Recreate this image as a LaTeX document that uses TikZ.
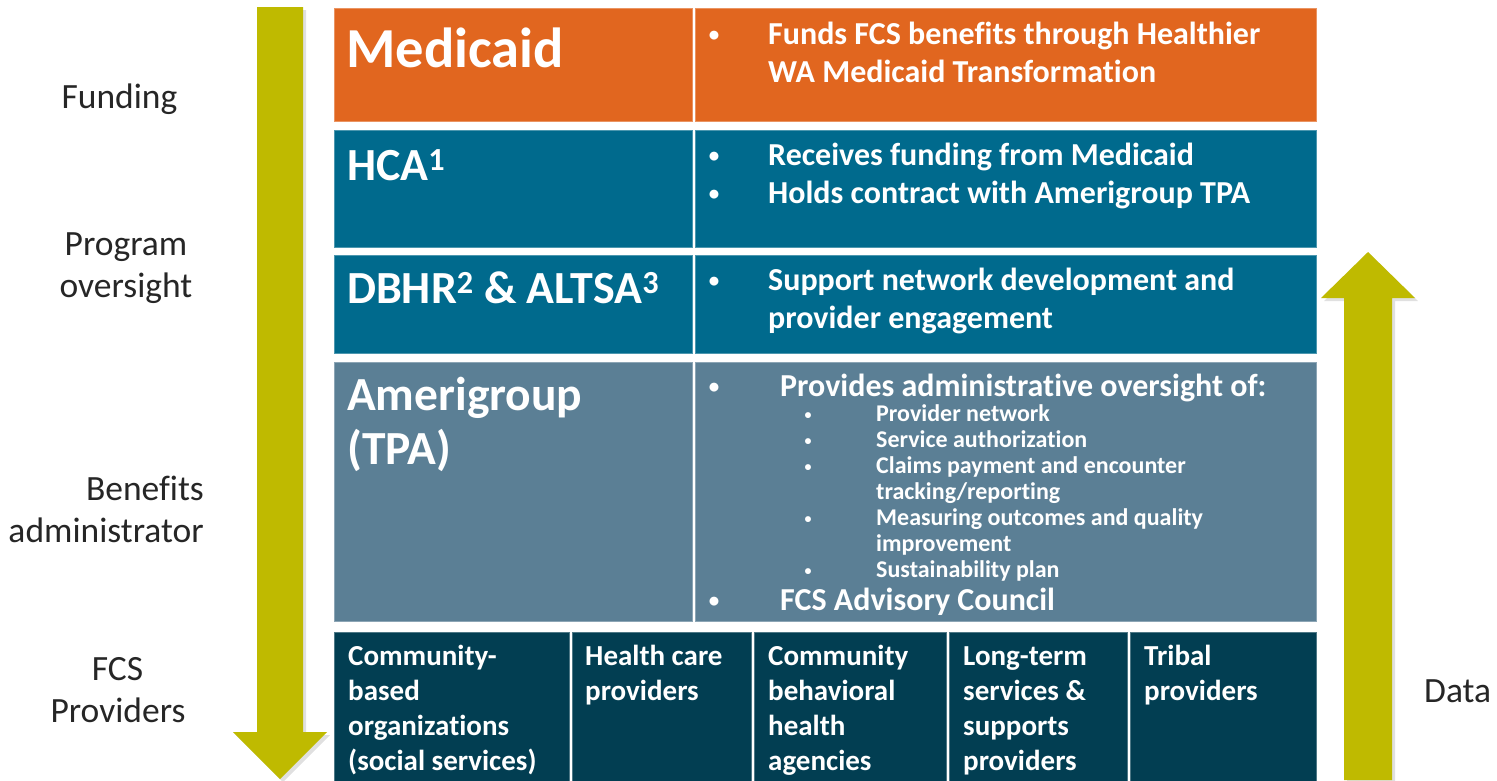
\documentclass[tikz,border=0pt]{standalone}
\usepackage{fontspec}
\setmainfont{Carlito}[Ligatures=NoCommon, RawFeature=-liga, RawFeature=-calt, RawFeature=-dlig]
\definecolor{cMed}{HTML}{E1661F}
\definecolor{cHca}{HTML}{006A8D}
\definecolor{cAmg}{HTML}{5B7F95}
\definecolor{cPrv}{HTML}{023E52}
\definecolor{cArr}{HTML}{BFBA00}
\tikzset{
  cell/.style={anchor=north west, inner sep=0pt, outer sep=0pt, fill=#1, draw=#1!70!white, line width=0.6pt},
  hd/.style={anchor=base west, inner sep=0pt, text=white, font=\fontsize{46}{54}\selectfont\bfseries},
  bt/.style={anchor=base west, inner sep=0pt, text=white, font=\fontsize{32}{38}\selectfont\bfseries},
  bl/.style={anchor=base, inner sep=0pt, text=white, font=\fontsize{21}{38}\selectfont\bfseries},
  st/.style={anchor=base west, inner sep=0pt, text=white, font=\fontsize{24}{26}\selectfont\bfseries},
  sb/.style={anchor=base, inner sep=0pt, text=white, font=\fontsize{14}{26}\selectfont\bfseries},
  pt/.style={anchor=base west, inner sep=0pt, text=white, font=\fontsize{29}{35}\selectfont\bfseries},
  lab/.style={anchor=base, inner sep=0pt, text=black!85, font=\fontsize{35.5}{42}\selectfont},
  arrowshape/.style={fill=cArr},
  arrowshadow/.style={fill=black, opacity=0.12}
}
\begin{document}
\begin{tikzpicture}[x=1pt, y=-1pt]
\useasboundingbox (0,0) rectangle (1497,780);
\fill[white] (0,0) rectangle (1497,780);

% arrows
\fill[arrowshadow] (260,10) -- (306,10) -- (306,735) -- (330,735) -- (283,782) -- (236,735) -- (260,735) -- cycle;
\fill[arrowshape] (257,7) -- (303,7) -- (303,732) -- (327,732) -- (280,779) -- (233,732) -- (257,732) -- cycle;
\fill[arrowshadow] (1371,255) -- (1418,301) -- (1395,301) -- (1395,783) -- (1347,783) -- (1347,301) -- (1324,301) -- cycle;
\fill[arrowshape] (1368,252) -- (1415,298) -- (1392,298) -- (1392,780) -- (1344,780) -- (1344,298) -- (1321,298) -- cycle;

% cells
\node[cell=cMed, minimum width=358pt, minimum height=113pt] (medL) at (334,8) {};
\node[cell=cMed, minimum width=621pt, minimum height=113pt] (medR) at (695,8) {};
\node[cell=cHca, minimum width=358pt, minimum height=117pt] (hcaL) at (334,130) {};
\node[cell=cHca, minimum width=621pt, minimum height=117pt] (hcaR) at (695,130) {};
\node[cell=cHca, minimum width=358pt, minimum height=98pt] (dbhL) at (334,255) {};
\node[cell=cHca, minimum width=621pt, minimum height=98pt] (dbhR) at (695,255) {};
\node[cell=cAmg, minimum width=358pt, minimum height=259pt] (amgL) at (334,362) {};
\node[cell=cAmg, minimum width=621pt, minimum height=259pt] (amgR) at (695,362) {};
\node[cell=cPrv, minimum width=235pt, minimum height=150pt] (p1) at (334,632) {};
\node[cell=cPrv, minimum width=179pt, minimum height=150pt] (p2) at (572,632) {};
\node[cell=cPrv, minimum width=192pt, minimum height=150pt] (p3) at (754,632) {};
\node[cell=cPrv, minimum width=178pt, minimum height=150pt] (p4) at (949,632) {};
\node[cell=cPrv, minimum width=186pt, minimum height=150pt] (p5) at (1130,632) {};

% headings
\node[hd, font=\fontsize{56.5}{60}\selectfont\bfseries] (tMed) at (346,67) {Medicaid};
\node[hd] (tHca) at (347,180) {HCA\textsuperscript{1}};
\node[hd] (tDbh) at (347,303) {DBHR\textsuperscript{2} \& ALTSA\textsuperscript{3}};
\node[hd, font=\fontsize{47.5}{54}\selectfont\bfseries] (tAmg1) at (347,410) {Amerigroup};
\node[hd, font=\fontsize{47.5}{54}\selectfont\bfseries] (tAmg2) at (347,464) {(TPA)};

% Medicaid text
\node[bl] (b1) at (714,41) {•};
\node[bt] (m1) at (768,44) {Funds FCS benefits through Healthier};
\node[bt] (m2) at (768,82) {WA Medicaid Transformation};
% HCA text
\node[bl] (b2) at (714,162) {•};
\node[bt] (h1) at (768,165) {Receives funding from Medicaid};
\node[bl] (b3) at (714,200) {•};
\node[bt] (h2) at (768,203) {Holds contract with Amerigroup TPA};
% DBHR text
\node[bl] (b4) at (714,287) {•};
\node[bt] (d1) at (768,290) {Support network development and};
\node[bt] (d2) at (768,328) {provider engagement};
% Amerigroup text
\node[bl] (b5) at (714,393) {•};
\node[bt] (a0) at (780,396) {Provides administrative oversight of:};
\node[sb] (s1) at (808,419) {•};
\node[st] (a1) at (876,421) {Provider network};
\node[sb] (s2) at (808,445) {•};
\node[st] (a2) at (876,447) {Service authorization};
\node[sb] (s3) at (808,471) {•};
\node[st] (a3) at (876,473) {Claims payment and encounter};
\node[st] (a4) at (876,499) {tracking/reporting};
\node[sb] (s4) at (808,523) {•};
\node[st] (a5) at (876,525) {Measuring outcomes and quality};
\node[st] (a6) at (876,551) {improvement};
\node[sb] (s5) at (808,575) {•};
\node[st] (a7) at (876,577) {Sustainability plan};
\node[bl] (b6) at (714,607) {•};
\node[bt] (a8) at (780,610) {FCS Advisory Council};

% providers
\node[pt] (p1a) at (348,665) {Community-};
\node[pt] (p1b) at (348,700) {based};
\node[pt] (p1c) at (348,735) {organizations};
\node[pt] (p1d) at (348,770) {(social services)};
\node[pt] (p2a) at (585,665) {Health care};
\node[pt] (p2b) at (585,700) {providers};
\node[pt] (p3a) at (768,665) {Community};
\node[pt] (p3b) at (768,700) {behavioral};
\node[pt] (p3c) at (768,735) {health};
\node[pt] (p3d) at (768,770) {agencies};
\node[pt] (p4a) at (963,665) {Long-term};
\node[pt] (p4b) at (963,700) {services \&};
\node[pt] (p4c) at (963,735) {supports};
\node[pt] (p4d) at (963,770) {providers};
\node[pt] (p5a) at (1144,665) {Tribal};
\node[pt] (p5b) at (1144,700) {providers};

% side labels
\node[lab] (lF) at (119.5,108) {Funding};
\node[lab] (lP1) at (126,255) {Program};
\node[lab] (lP2) at (126,297) {oversight};
\node[lab, anchor=base east] (lB1) at (204,500) {Benefits};
\node[lab, anchor=base east] (lB2) at (204,542) {administrator};
\node[lab] (lC1) at (117.5,680) {FCS};
\node[lab] (lC2) at (118,722) {Providers};
\node[lab, anchor=base west] (lD) at (1424,702) {Data};
\end{tikzpicture}
\end{document}
